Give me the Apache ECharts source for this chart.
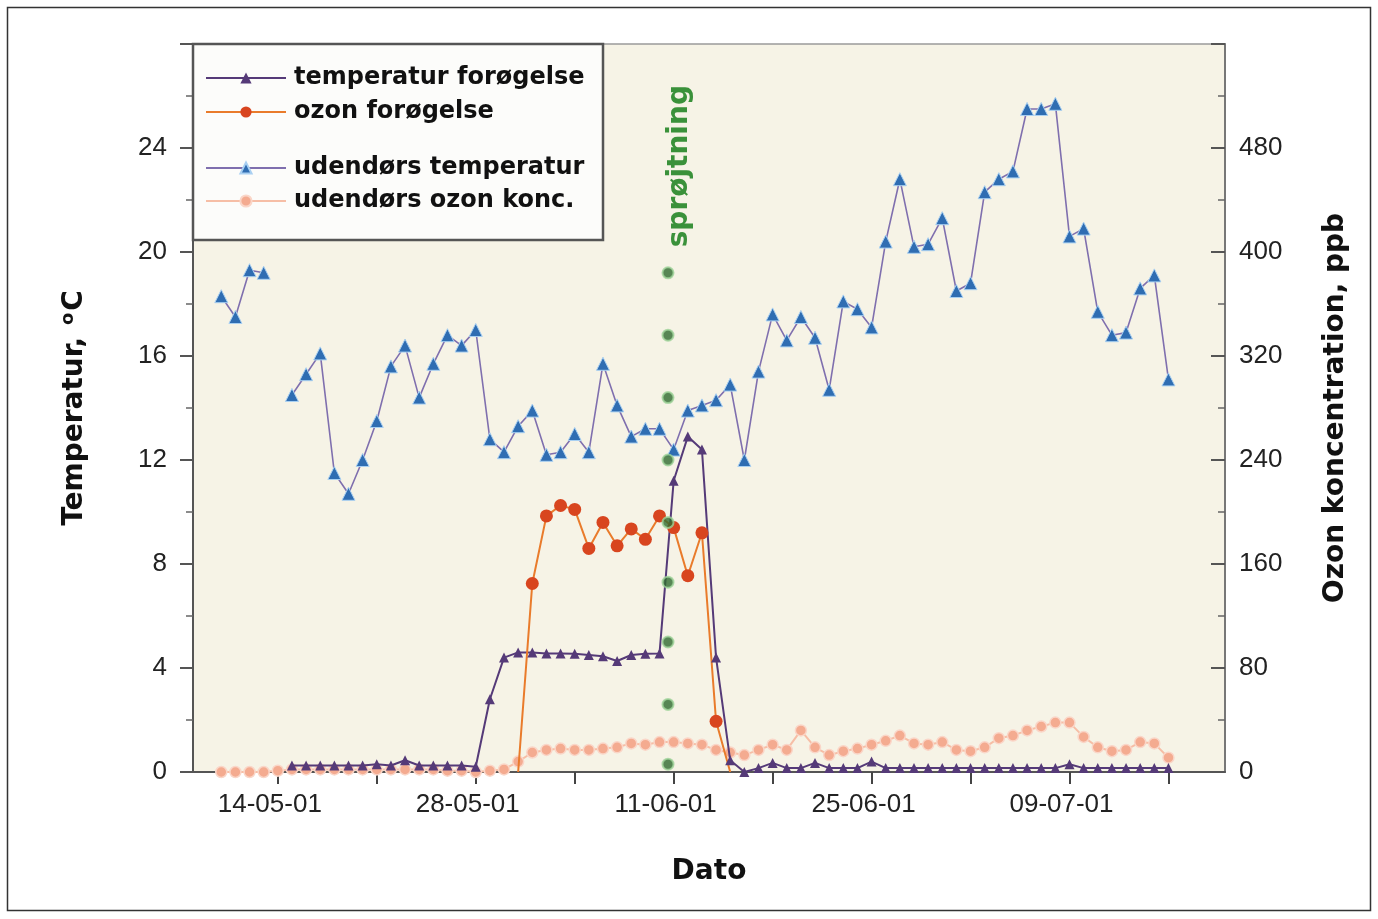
<!DOCTYPE html>
<html>
<head>
<meta charset="utf-8">
<script src="https://cdn.jsdelivr.net/npm/echarts@6/dist/echarts.min.js"></script>
<style>
html,body{margin:0;padding:0;background:#fff;}
#chart{width:1378px;height:919px;}
</style>
</head>
<body>
<div id="chart"></div>
<script>
// ---- categories: one per day, 08-05-01 .. 20-07-01
const dates = [
 '08-05-01','09-05-01','10-05-01','11-05-01','12-05-01','13-05-01','14-05-01','15-05-01','16-05-01','17-05-01',
 '18-05-01','19-05-01','20-05-01','21-05-01','22-05-01','23-05-01','24-05-01','25-05-01','26-05-01','27-05-01',
 '28-05-01','29-05-01','30-05-01','31-05-01','01-06-01','02-06-01','03-06-01','04-06-01','05-06-01','06-06-01',
 '07-06-01','08-06-01','09-06-01','10-06-01','11-06-01','12-06-01','13-06-01','14-06-01','15-06-01','16-06-01',
 '17-06-01','18-06-01','19-06-01','20-06-01','21-06-01','22-06-01','23-06-01','24-06-01','25-06-01','26-06-01',
 '27-06-01','28-06-01','29-06-01','30-06-01','01-07-01','02-07-01','03-07-01','04-07-01','05-07-01','06-07-01',
 '07-07-01','08-07-01','09-07-01','10-07-01','11-07-01','12-07-01','13-07-01','14-07-01','15-07-01','16-07-01',
 '17-07-01','18-07-01','19-07-01','20-07-01'
];

// temperatur forøgelse (°C, left axis)
const tempIncrease = [
 null,null,null,null,null,null,null,0.25,0.25,0.25,
 0.25,0.25,0.25,0.3,0.25,0.45,0.25,0.25,0.25,0.25,
 0.2,2.8,4.4,4.6,4.6,4.56,4.56,4.55,4.5,4.45,
 4.27,4.5,4.55,4.56,11.2,12.9,12.4,4.4,0.45,0.0,
 0.15,0.35,0.15,0.15,0.35,0.15,0.15,0.15,0.4,0.15,
 0.15,0.15,0.15,0.15,0.15,0.15,0.15,0.15,0.15,0.15,
 0.15,0.15,0.3,0.15,0.15,0.15,0.15,0.15,0.15,0.15,
 null,null,null,null
];

// ozon forøgelse (ppb, right axis)
const ozoneIncrease = [
 null,null,null,null,null,null,null,null,null,null,
 null,null,null,null,null,null,null,null,null,null,
 null,null,null,0,145,197,205,202,172,192,
 174,187,179,197,188,151,184,39,0,null,
 null,null,null,null,null,null,null,null,null,null,
 null,null,null,null,null,null,null,null,null,null,
 null,null,null,null,null,null,null,null,null,null,
 null,null,null,null
];

// udendørs temperatur (°C, left axis)
const outdoorTemp = [
 null,null,18.3,17.5,19.3,19.2,null,14.5,15.3,16.1,
 11.5,10.7,12.0,13.5,15.6,16.4,14.4,15.7,16.8,16.4,
 17.0,12.8,12.3,13.3,13.9,12.2,12.3,13.0,12.3,15.7,
 14.1,12.9,13.2,13.2,12.4,13.9,14.1,14.3,14.9,12.0,
 15.4,17.6,16.6,17.5,16.7,14.7,18.1,17.8,17.1,20.4,
 22.8,20.2,20.3,21.3,18.5,18.8,22.3,22.8,23.1,25.5,
 25.5,25.7,20.6,20.9,17.7,16.8,16.9,18.6,19.1,15.1,
 null,null,null,null
];

// udendørs ozon konc. (ppb, right axis)
const outdoorOzone = [
 null,null,0,0,0,0,1,2,2,2,
 2,2,2,2,2,2,2,2,1,1,
 0,1,2,8,15,17,18,17,17,18,
 19,22,21,23,23,22,21,17,15,13,
 17,21,17,32,19,13,16,18,21,24,
 28,22,21,23,17,16,19,26,28,32,
 35,38,38,27,19,16,17,23,22,11,
 null,null,null,null
];

// sprøjtning (spraying) marker: day position (index scale) and dot heights (°C scale)
const sprayDay = 33.6;
const sprayDots = [19.2, 16.8, 14.4, 12.0, 9.6, 7.3, 5.0, 2.6, 0.3];

const leftTicks = {min: 0, max: 28, interval: 4};
const rightTicks = {min: 0, max: 560, interval: 80};

const chart = echarts.init(document.getElementById('chart'), null, {renderer: 'canvas'});

const boldFont = 'DejaVu Sans';
const tickFont = 'Liberation Sans';

const option = {
  animation: false,
  backgroundColor: '#ffffff',
  grid: {
    left: 193, right: 153, top: 44, bottom: 147,
    show: true, backgroundColor: '#f6f3e6', borderColor: '#9a9a9a', borderWidth: 1.5
  },
  legend: [
    {
      data: ['temperatur forøgelse', 'ozon forøgelse'],
      orient: 'vertical', left: 205, top: 66, padding: 0,
      itemWidth: 80, itemHeight: 14, itemGap: 10,
      textStyle: {fontFamily: boldFont, fontWeight: 'bold', fontSize: 24, color: '#111', lineHeight: 24, padding: [0,0,0,3]},
      z: 6
    },
    {
      data: ['udendørs temperatur', 'udendørs ozon konc.'],
      orient: 'vertical', left: 205, top: 156, padding: 0,
      itemWidth: 80, itemHeight: 14, itemGap: 9,
      textStyle: {fontFamily: boldFont, fontWeight: 'bold', fontSize: 24, color: '#111', lineHeight: 24, padding: [0,0,0,3]},
      z: 6
    }
  ],
  xAxis: [
    {
      type: 'category', data: dates, boundaryGap: false,
      name: 'Dato', nameLocation: 'middle', nameGap: 86,
      nameTextStyle: {fontFamily: boldFont, fontWeight: 'bold', fontSize: 28, color: '#111'},
      axisLine: {lineStyle: {color: '#555', width: 2}},
      axisTick: {show: true, length: 12, lineStyle: {color: '#444', width: 2},
        interval: function (idx) { return (idx - 6) % 7 === 0 && idx >= 6; }},
      axisLabel: {
        interval: function (idx) { return (idx - 6) % 14 === 0 && idx >= 6; },
        margin: 20, fontFamily: tickFont, fontSize: 26, color: '#222', padding: [0, 16, 0, 0]
      },
      splitLine: {show: false}
    },
    {
      type: 'value', min: 0, max: dates.length - 1, show: false
    }
  ],
  yAxis: [
    {
      type: 'value', position: 'left',
      min: leftTicks.min, max: leftTicks.max, interval: leftTicks.interval,
      name: 'Temperatur, {sup|o}C', nameLocation: 'middle', nameRotate: 90, nameGap: 102,
      nameTextStyle: {fontFamily: boldFont, fontWeight: 'bold', fontSize: 28, color: '#111',
        rich: {sup: {fontFamily: boldFont, fontWeight: 'bold', fontSize: 18, color: '#111', verticalAlign: 'top', padding: [0,2,14,2]}}},
      axisLine: {show: true, lineStyle: {color: '#555', width: 2}},
      axisTick: {show: true, length: 13, lineStyle: {color: '#555', width: 2}},
      minorTick: {show: true, splitNumber: 2, length: 7, lineStyle: {color: '#666', width: 1.5}},
      axisLabel: {margin: 26, fontFamily: tickFont, fontSize: 26, color: '#222', showMaxLabel: false},
      splitLine: {show: false}
    },
    {
      type: 'value', position: 'right',
      min: rightTicks.min, max: rightTicks.max, interval: rightTicks.interval,
      name: 'Ozon koncentration, ppb', nameLocation: 'middle', nameRotate: 90, nameGap: 97,
      nameTextStyle: {fontFamily: boldFont, fontWeight: 'bold', fontSize: 28, color: '#111'},
      axisLine: {show: true, lineStyle: {color: '#777', width: 2}},
      axisTick: {show: true, inside: true, length: 14, lineStyle: {color: '#555', width: 2}},
      minorTick: {show: true, splitNumber: 2, length: 7, lineStyle: {color: '#666', width: 1.5}},
      axisLabel: {margin: 14, fontFamily: tickFont, fontSize: 26, color: '#222', showMaxLabel: false},
      splitLine: {show: false}
    }
  ],
  series: [
    {
      name: 'udendørs ozon konc.', type: 'line', yAxisIndex: 1, data: outdoorOzone,
      symbol: 'circle', symbolSize: 11, connectNulls: false, showAllSymbol: true,
      itemStyle: {color: '#f4ab90', borderColor: '#fad6c8', borderWidth: 1.5},
      lineStyle: {color: '#f6bea6', width: 2}, z: 2
    },
    {
      name: 'udendørs temperatur', type: 'line', yAxisIndex: 0, data: outdoorTemp,
      symbol: 'triangle', symbolSize: 13, connectNulls: false, showAllSymbol: true,
      itemStyle: {color: '#2f6db2', borderColor: '#a9d0f2', borderWidth: 1},
      lineStyle: {color: '#7f6fae', width: 1.6}, z: 3
    },
    {
      name: 'temperatur forøgelse', type: 'line', yAxisIndex: 0, data: tempIncrease,
      symbol: 'triangle', symbolSize: 10, connectNulls: false, showAllSymbol: true,
      itemStyle: {color: '#553a78'},
      lineStyle: {color: '#553a78', width: 2}, z: 4
    },
    {
      name: 'ozon forøgelse', type: 'line', yAxisIndex: 1, data: ozoneIncrease,
      symbol: function (v) { return v === 0 ? 'none' : 'circle'; },
      symbolSize: 13, connectNulls: false, showAllSymbol: true,
      itemStyle: {color: '#d8451f'},
      lineStyle: {color: '#e97b2b', width: 2}, z: 4
    },
    {
      name: 'sprøjtning', type: 'scatter', xAxisIndex: 1, yAxisIndex: 0,
      data: sprayDots.map(function (v) { return [sprayDay, v]; }),
      symbol: 'circle', symbolSize: 11,
      itemStyle: {color: '#2f6a30', borderColor: '#9fd39a', borderWidth: 2}, z: 5
    }
  ]
};

chart.setOption(option);

const p = chart.convertToPixel({xAxisIndex: 1, yAxisIndex: 0}, [sprayDay + 0.85, 23.3]);
chart.setOption({
  graphic: [
    {type: 'rect', id: 'frame', shape: {x: 7.5, y: 7.5, width: 1363, height: 903},
      style: {fill: 'none', stroke: '#333', lineWidth: 1.5}, z: 0, silent: true},
    {type: 'rect', id: 'legendBox', shape: {x: 193, y: 44, width: 410, height: 196},
      style: {fill: '#fcfcfa', stroke: '#555', lineWidth: 2.5}, z: 5, silent: true},
    {type: 'text', id: 'spray', x: p[0], y: p[1], rotation: Math.PI / 2, z: 6,
      style: {text: 'sprøjtning', fill: '#3a913a', font: 'bold 28px "DejaVu Sans"',
        textAlign: 'center', textVerticalAlign: 'middle'}}
  ]
});
</script>
</body>
</html>
